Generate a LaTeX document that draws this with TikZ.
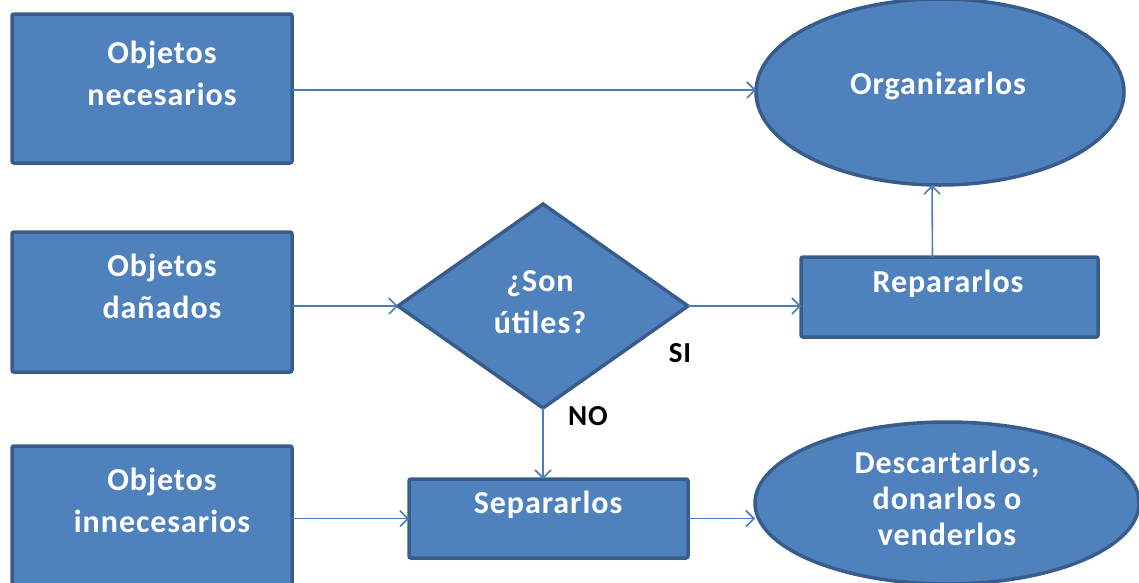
\documentclass[tikz,border=0pt]{standalone}
\usepackage{fontspec}
\setmainfont{Carlito}
\newfontfamily\wideface[LetterSpace=3]{Carlito}
\usetikzlibrary{shapes.geometric,arrows.meta}
\definecolor{boxfill}{HTML}{4F81BD}
\definecolor{boxline}{HTML}{385D8A}
\definecolor{arrowc}{HTML}{4A7EBB}
\tikzset{
  shapebase/.style={fill=boxfill, draw=boxline, line width=3.5pt, inner sep=0pt, outer sep=0pt},
  procbox/.style={shapebase, rectangle, rounded corners=2pt},
  termoval/.style={shapebase, ellipse},
  decide/.style={shapebase, diamond},
  lbl/.style={text=white, font=\wideface\fontsize{32}{42}\selectfont\bfseries, align=center},
  tag/.style={text=black, font=\wideface\fontsize{29}{32}\selectfont\bfseries},
  arr/.style={draw=arrowc, line width=1.6pt, -{Straight Barb[length=8pt,width=16pt,line width=1.6pt]}}
}
\begin{document}
\begin{tikzpicture}[x=1pt,y=-1pt]
\useasboundingbox (0,0) rectangle (1139,582);
\clip (0,0) rectangle (1139,582);

% left column of object groups
\node[procbox, minimum width=280, minimum height=149] (nec) at (152,88.5) {};
\node[procbox, minimum width=280, minimum height=140] (dan) at (152,302) {};
\node[procbox, minimum width=280, minimum height=152] (inn) at (152,522) {};
\node[lbl] (tnec) at (162,73) {Objetos\\necesarios};
\node[lbl] (tdan) at (162,286) {Objetos\\dañados};
\node[lbl] (tinn) at (162,500) {Objetos\\innecesarios};

% decision
\node[decide, minimum width=290, minimum height=204] (dec) at (543,306) {};
\node[lbl] (tdec) at (540,302) {¿Son\\útiles?};
\node[tag] (si) at (680,353) {SI};
\node[tag] (no) at (588,416) {NO};

% actions
\node[termoval, minimum width=368, minimum height=186] (org) at (940,92) {};
\node[lbl] (torg) at (938,86) {Organizarlos};
\node[procbox, minimum width=297, minimum height=80] (rep) at (949.5,297) {};
\node[lbl] (trep) at (948,284) {Repararlos};
\node[procbox, minimum width=279, minimum height=79] (sep) at (548.5,518.5) {};
\node[lbl] (tsep) at (548,505) {Separarlos};
\node[termoval, minimum width=384, minimum height=162] (des) at (947,503) {};
\node[lbl, font=\wideface\fontsize{32}{36}\selectfont\bfseries] (tdes) at (947,498) {Descartarlos,\\donarlos o\\venderlos};

% connectors
\draw[arr] ([yshift=-1.5]nec.east) -- ([yshift=-1.5]nec.east -| org.west);
\draw[arr] (dan.east |- dec.west) -- (dec.west);
\draw[arr] (dec.east) -- (dec.east -| rep.west);
\draw[arr] ([xshift=-17]rep.north) -- ([xshift=-8]org.south);
\draw[arr] (dec.south) -- (dec.south |- sep.north);
\draw[arr] (inn.east |- sep.center) -- (sep.west);
\draw[arr] (sep.east) -- (sep.east -| des.west);
\end{tikzpicture}
\end{document}
